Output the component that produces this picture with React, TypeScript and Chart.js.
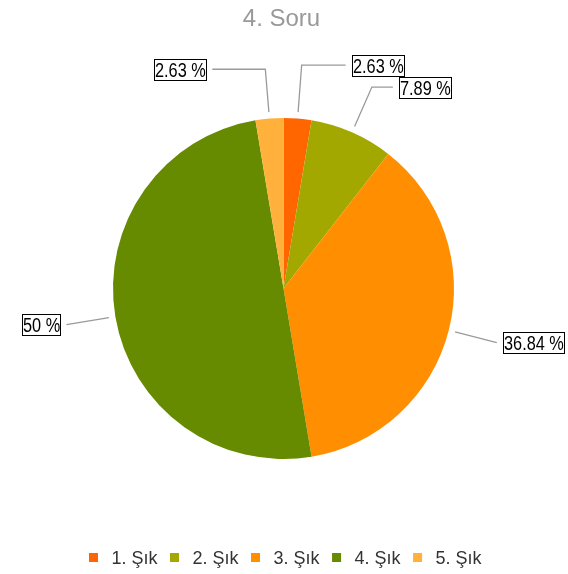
import React, { useEffect, useRef } from 'react';
import { Chart, registerables } from 'chart.js';

Chart.register(...registerables);

const chartTitle = '4. Soru';
const categories = ['1. Şık', '2. Şık', '3. Şık', '4. Şık', '5. Şık'];
const values = [1, 3, 14, 19, 1];
const colors = ['#FF6600', '#A2A800', '#FF8F00', '#668A00', '#FFB13B'];

const FONT = '"Liberation Sans", Arial, sans-serif';
const NARROW = '"Liberation Sans Narrow", "Arial Narrow", "Liberation Sans", Arial, sans-serif';
const hLen = [44, 21, 0, 0, 53];

const total = values.reduce((a, b) => a + b, 0);
const pctLabel = (v: number) => parseFloat(((v / total) * 100).toFixed(2)) + ' %';

const leaderPlugin = {
  id: 'leaderLabels',
  afterDatasetsDraw(chart: any) {
    const ctx = chart.ctx;
    const meta = chart.getDatasetMeta(0);
    const items = meta.data.map((arc: any, i: number) => {
      const p = arc.getProps(['x', 'y', 'startAngle', 'endAngle', 'outerRadius'], true);
      const mid = (p.startAngle + p.endAngle) / 2;
      const c = Math.cos(mid), s = Math.sin(mid);
      return {
        i,
        sx: p.x + c * (p.outerRadius + 6.5),
        sy: p.y + s * (p.outerRadius + 6.5),
        ex: p.x + c * (p.outerRadius + 49.5),
        ey: p.y + s * (p.outerRadius + 49.5),
        right: c >= 0,
      };
    });
    const gap = 22;
    for (const side of [true, false]) {
      const arr = items.filter((it: any) => it.right === side).sort((a: any, b: any) => b.ey - a.ey);
      for (let k = 1; k < arr.length; k++) {
        if (arr[k - 1].ey - arr[k].ey < gap) arr[k].ey = arr[k - 1].ey - gap;
      }
    }
    ctx.save();
    for (const it of items) {
      const h = hLen[it.i];
      const lx = it.right ? it.ex + h : it.ex - h;
      ctx.strokeStyle = '#9a9a9a';
      ctx.lineWidth = 1.3;
      ctx.beginPath();
      ctx.moveTo(it.sx, it.sy);
      ctx.lineTo(it.ex, it.ey);
      ctx.lineTo(lx, it.ey);
      ctx.stroke();
      const text = pctLabel(values[it.i]);
      ctx.font = `20px ${FONT}`;
      const target = ctx.measureText(text).width * 0.815;
      ctx.font = `20px ${NARROW}`;
      const tw = Math.min(ctx.measureText(text).width, target);
      const bw = Math.round(tw + 1);
      const bh = 21;
      const bx = Math.round(it.right ? lx + 6.5 : lx - 6.5 - bw);
      const by = Math.round(it.ey - bh / 2);
      ctx.fillStyle = '#ffffff';
      ctx.fillRect(bx, by, bw, bh);
      ctx.strokeStyle = '#000000';
      ctx.lineWidth = 1;
      ctx.strokeRect(bx + 0.5, by + 0.5, bw, bh);
      ctx.fillStyle = '#000000';
      ctx.textBaseline = 'alphabetic';
      ctx.textAlign = 'left';
      ctx.fillText(text, bx + 1, by + 18, target);
    }
    ctx.restore();
  },
  afterDraw(chart: any) {
    const ctx = chart.ctx;
    ctx.save();
    // title
    ctx.font = `24px ${FONT}`;
    ctx.fillStyle = '#999999';
    ctx.textAlign = 'center';
    ctx.textBaseline = 'alphabetic';
    ctx.fillText(chartTitle, 281.5, 26);
    // legend
    ctx.font = `18px ${FONT}`;
    const box = 9, textGap = 13.5, itemGap = 12.5;
    const widths = categories.map((c) => box + textGap + ctx.measureText(c).width);
    const totalW = widths.reduce((a, b) => a + b, 0) + itemGap * (categories.length - 1);
    let x = Math.round(285 - totalW / 2);
    const cy = 557;
    ctx.textAlign = 'left';
    ctx.textBaseline = 'alphabetic';
    categories.forEach((c, i) => {
      ctx.fillStyle = colors[i];
      ctx.fillRect(x, Math.round(cy - box / 2), box, box);
      ctx.fillStyle = '#333333';
      ctx.fillText(c, x + box + textGap, 563.5);
      x += widths[i] + itemGap;
    });
    ctx.restore();
  },
};

export default function App() {
  const ref = useRef<HTMLCanvasElement | null>(null);
  useEffect(() => {
    if (!ref.current) return;
    const chart = new Chart(ref.current, {
      type: 'pie',
      data: {
        labels: categories,
        datasets: [
          {
            data: values,
            backgroundColor: colors,
            borderWidth: 0,
            hoverOffset: 0,
          },
        ],
      },
      options: {
        animation: false,
        responsive: true,
        maintainAspectRatio: false,
        layout: { padding: { left: 113, right: 114, top: 118, bottom: 115 } },
        plugins: {
          legend: { display: false },
          title: { display: false },
          tooltip: { enabled: false },
        },
      },
      plugins: [leaderPlugin],
    });
    return () => chart.destroy();
  }, []);
  return (
    <div style={{ position: 'fixed', left: 0, top: 0, width: 568, height: 574, background: '#fff' }}>
      <canvas ref={ref} />
    </div>
  );
}
